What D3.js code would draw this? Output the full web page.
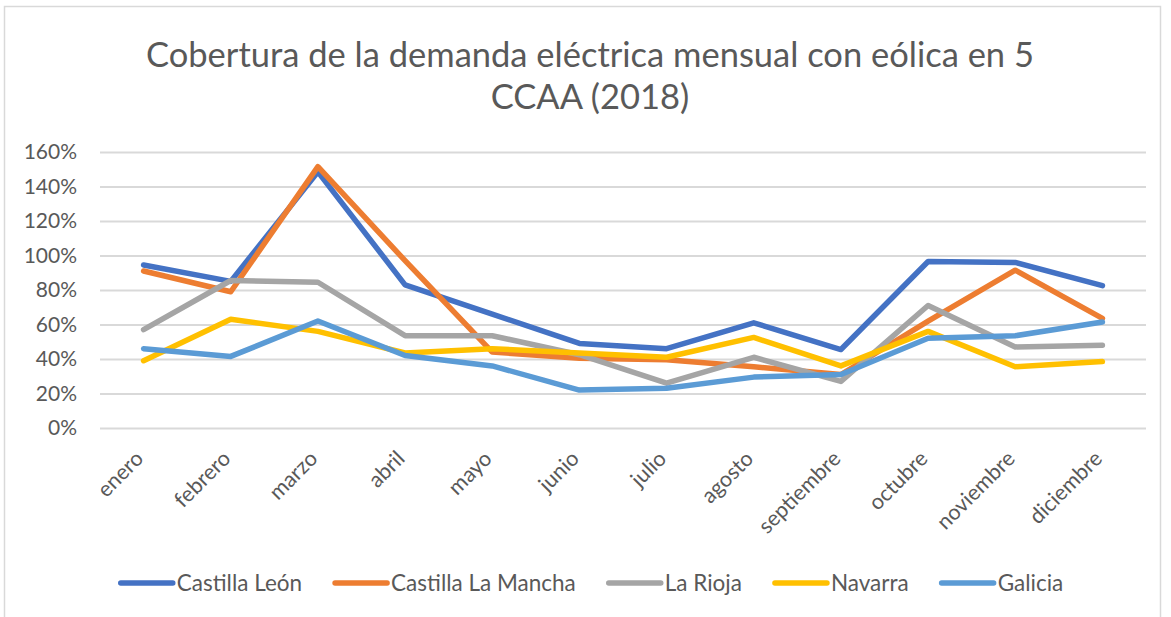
<!DOCTYPE html>
<html>
<head>
<meta charset="utf-8">
<script src="https://cdn.jsdelivr.net/npm/d3@7"></script>
<style>
  body { margin: 0; background: #fff; }
  svg { display: block; font-family: Lato, "Open Sans", sans-serif; }
</style>
</head>
<body>
<svg id="chart" width="1171" height="617"></svg>
<script>
// data
const months = ['enero', 'febrero', 'marzo', 'abril', 'mayo', 'junio', 'julio', 'agosto', 'septiembre', 'octubre', 'noviembre', 'diciembre'];
const castillaLeon    = [94.5, 85, 148.5, 83, 66, 49, 46, 61, 45.5, 96.5, 96, 82.5];
const castillaMancha  = [91, 79, 151.5, 97, 44, 40.5, 39.5, 35.5, 31, 62, 91.5, 63.5];
const laRioja         = [57, 85.5, 84.5, 53.5, 53.5, 42.5, 26, 41, 27, 71, 47, 48];
const navarra         = [39, 63, 56, 43.5, 46, 43.5, 41, 52.5, 36, 56, 35.5, 38.5];
const galicia         = [46, 41.5, 62, 42, 36, 22, 23, 29.5, 31, 52, 53.5, 61.5];
const yTicks = [0, 20, 40, 60, 80, 100, 120, 140, 160];

const series = [
  { name: 'Castilla León', values: castillaLeon, color: '#4472C4' },
  { name: 'Castilla La Mancha', values: castillaMancha, color: '#ED7D31' },
  { name: 'La Rioja', values: laRioja, color: '#A5A5A5' },
  { name: 'Navarra', values: navarra, color: '#FFC000' },
  { name: 'Galicia', values: galicia, color: '#5B9BD5' }
];

const svg = d3.select('#chart');
const W = 1171, H = 617;
const margin = { top: 152, right: 25, bottom: 189, left: 100 };
const innerW = W - margin.left - margin.right;
const innerH = H - margin.top - margin.bottom;
const font = 'Lato, "Open Sans", sans-serif';

// chart border
svg.append('rect')
  .attr('x', 4.5).attr('y', 6.5)
  .attr('width', 1156).attr('height', 620)
  .attr('fill', '#fff')
  .attr('stroke', '#d9d9d9')
  .attr('stroke-width', 1.5);

// title
const title = svg.append('text')
  .attr('text-anchor', 'middle')
  .attr('fill', '#595959')
  .attr('font-size', 34.5);
title.append('tspan').attr('x', 590).attr('y', 67)
  .text('Cobertura de la demanda eléctrica mensual con eólica en 5');
title.append('tspan').attr('x', 590).attr('y', 109)
  .text('CCAA (2018)');

const g = svg.append('g')
  .attr('transform', 'translate(' + margin.left + ',' + margin.top + ')');

const x = d3.scaleBand().domain(months).range([0, innerW]);
const y = d3.scaleLinear().domain([0, 160]).range([innerH, 0]);

// grid lines + y labels
g.append('g')
  .call(d3.axisLeft(y).tickValues(yTicks).tickSize(-innerW).tickFormat(d => d + '%'))
  .call(a => a.select('.domain').remove())
  .call(a => a.selectAll('.tick line').attr('stroke', '#d9d9d9').attr('stroke-width', 2))
  .call(a => a.selectAll('.tick text')
    .attr('x', -23)
    .attr('fill', '#595959')
    .attr('font-size', 21)
    .attr('font-family', font));

// x labels, rotated
g.append('g')
  .attr('transform', 'translate(0,' + innerH + ')')
  .call(d3.axisBottom(x).tickSize(0))
  .call(a => a.select('.domain').remove())
  .call(a => a.selectAll('.tick text')
    .attr('fill', '#595959')
    .attr('font-size', 21.5)
    .attr('font-family', font)
    .attr('text-anchor', 'end')
    .attr('dy', null)
    .attr('y', 0)
    .attr('transform', 'translate(1,32) rotate(-45)'));

const line = d3.line()
  .x((d, i) => x(months[i]) + x.bandwidth() / 2)
  .y(d => y(d));

g.selectAll('.series')
  .data(series)
  .enter()
  .append('path')
  .attr('class', 'series')
  .attr('fill', 'none')
  .attr('stroke', d => d.color)
  .attr('stroke-width', 5.5)
  .attr('stroke-linejoin', 'round')
  .attr('stroke-linecap', 'round')
  .attr('d', d => line(d.values));

// legend
const legend = svg.append('g');
const items = legend.selectAll('g')
  .data(series)
  .enter()
  .append('g');
items.append('line')
  .attr('x1', 0).attr('x2', 52)
  .attr('y1', 0).attr('y2', 0)
  .attr('stroke', d => d.color)
  .attr('stroke-width', 5.5)
  .attr('stroke-linecap', 'round');
items.append('text')
  .attr('x', 56)
  .attr('dy', '0.35em')
  .attr('fill', '#595959')
  .attr('font-size', 22.5)
  .text(d => d.name);

let offset = 0;
const widths = [];
items.each(function () {
  widths.push(56 + this.querySelector('text').getComputedTextLength());
});
const gap = 33;
const total = d3.sum(widths) + gap * (widths.length - 1);
const start = 592 - total / 2;
items.attr('transform', (d, i) => {
  const t = 'translate(' + (start + offset) + ',583)';
  offset += widths[i] + gap;
  return t;
});
</script>
</body>
</html>
